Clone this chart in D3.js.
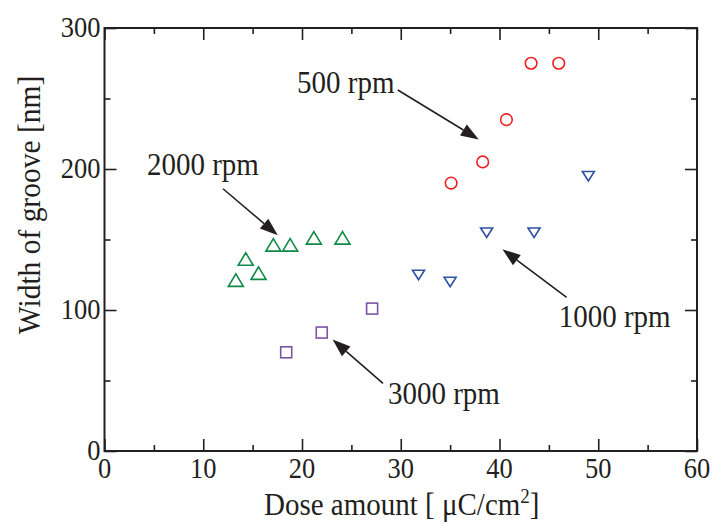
<!DOCTYPE html>
<html>
<head>
<meta charset="utf-8">
<script src="https://cdn.jsdelivr.net/npm/d3@7"></script>
<style>
  html, body { margin: 0; padding: 0; background: #fff; }
  svg { display: block; }
  text { font-family: "Liberation Serif", "Times New Roman", serif; fill: #231f20; }
</style>
</head>
<body>
<svg id="chart" width="713" height="524"></svg>
<script>
// Groove width versus electron dose, one series per spin-coating speed
const rpm500  = [[35.1, 190], [38.3, 205], [40.7, 235], [43.2, 275], [46.0, 275]];
const rpm1000 = [[31.8, 125], [35.0, 120], [38.7, 155], [43.5, 155], [49.0, 195]];
const rpm2000 = [[13.3, 121], [14.3, 136], [15.6, 126], [17.1, 146], [18.8, 146], [21.2, 151], [24.1, 151]];
const rpm3000 = [[18.4, 70], [22.0, 84], [27.1, 101]];

const xTicks = [0, 10, 20, 30, 40, 50, 60];
const yTicks = [0, 100, 200, 300];
const xMinor = [5, 15, 25, 35, 45, 55];
const yMinor = [50, 150, 250];

// Callouts: label anchor, arrow start and arrow tip, all in data units
const callouts = [
  { text: "500 rpm",  at: [19.5, 254], from: [29.7, 256], to: [37.9, 221] },
  { text: "2000 rpm", at: [4.3, 196],  from: [12.0, 186], to: [17.55, 153] },
  { text: "3000 rpm", at: [28.7, 33],  from: [28.2, 48],  to: [23.1, 79] },
  { text: "1000 rpm", at: [46.0, 88],  from: [46.8, 109], to: [40.3, 143] }
];

const svg = d3.select("#chart");
const axisColor = "#231f20";
const stretch = 1.1;   // the serif face is set slightly tall

const x = d3.scaleLinear().domain([0, 60]).range([104.5, 697]);
const y = d3.scaleLinear().domain([0, 300]).range([451, 28]);

// Mirrored tick marks pointing inward on all four sides
function tickAxis(gen, scale, ticks, len, transform) {
  return svg.append("g").attr("transform", transform)
    .call(gen(scale).tickValues(ticks).tickSize(len).tickFormat(""))
    .call(g => g.select(".domain").remove())
    .call(g => g.selectAll("line").attr("stroke", axisColor).attr("stroke-width", 1.6));
}
const x0 = x.range()[0], x1 = x.range()[1], y0 = y.range()[0], y1 = y.range()[1];
tickAxis(d3.axisTop, x, xTicks, 12, `translate(0,${y0})`);
tickAxis(d3.axisTop, x, xMinor, 6, `translate(0,${y0})`);
tickAxis(d3.axisBottom, x, xTicks, 12, `translate(0,${y1})`);
tickAxis(d3.axisBottom, x, xMinor, 6, `translate(0,${y1})`);
tickAxis(d3.axisRight, y, yTicks, 12, `translate(${x0},0)`);
tickAxis(d3.axisRight, y, yMinor, 6, `translate(${x0},0)`);
tickAxis(d3.axisLeft, y, yTicks, 12, `translate(${x1},0)`);
tickAxis(d3.axisLeft, y, yMinor, 6, `translate(${x1},0)`);

svg.append("rect")
  .attr("x", x0).attr("y", y1).attr("width", x1 - x0).attr("height", y0 - y1)
  .attr("fill", "none").attr("stroke", axisColor).attr("stroke-width", 2);

// Tick labels
svg.append("g").selectAll("text").data(xTicks).join("text")
  .attr("transform", d => `translate(${x(d)},${y0 + 27}) scale(1,${stretch})`)
  .attr("text-anchor", "middle").attr("font-size", 26.5)
  .text(d => d);
svg.append("g").selectAll("text").data(yTicks).join("text")
  .attr("transform", d => `translate(${x0 - 4},${y(d) + 9}) scale(1,${stretch})`)
  .attr("text-anchor", "end").attr("font-size", 26.5)
  .text(d => d);

// Axis titles
const xt = svg.append("text")
  .attr("transform", `translate(${(x0 + x1) / 2 + 1},515) scale(1,${stretch})`)
  .attr("text-anchor", "middle").attr("font-size", 29);
xt.append("tspan").text("Dose amount [ μC/cm");
xt.append("tspan").attr("dy", -11).attr("font-size", 19).text("2");
xt.append("tspan").attr("dy", 11).text("]");

svg.append("text")
  .attr("transform", `translate(40,205) rotate(-90) scale(1,${stretch})`)
  .attr("text-anchor", "middle").attr("font-size", 29.5)
  .text("Width of groove [nm]");

// Markers
const sw = 1.6;
svg.append("g").selectAll("circle").data(rpm500).join("circle")
  .attr("cx", d => x(d[0])).attr("cy", d => y(d[1])).attr("r", 5.8)
  .attr("fill", "none").attr("stroke", "#ed2024").attr("stroke-width", sw);

const upTri = "M0,-6.5L7.5,6L-7.5,6Z";
svg.append("g").selectAll("path").data(rpm2000).join("path")
  .attr("d", upTri)
  .attr("transform", d => `translate(${x(d[0])},${y(d[1])})`)
  .attr("fill", "none").attr("stroke", "#0f8a45").attr("stroke-width", sw);

const downTri = "M-6,-4.5L6,-4.5L0,5Z";
svg.append("g").selectAll("path").data(rpm1000).join("path")
  .attr("d", downTri)
  .attr("transform", d => `translate(${x(d[0])},${y(d[1])})`)
  .attr("fill", "none").attr("stroke", "#2d52a3").attr("stroke-width", sw);

svg.append("g").selectAll("rect").data(rpm3000).join("rect")
  .attr("x", d => x(d[0]) - 5.5).attr("y", d => y(d[1]) - 5.5)
  .attr("width", 11).attr("height", 11)
  .attr("fill", "none").attr("stroke", "#7b55a5").attr("stroke-width", sw);

// Callout labels and arrows
const ann = svg.append("g");
callouts.forEach(c => {
  ann.append("text")
    .attr("transform", `translate(${x(c.at[0])},${y(c.at[1])}) scale(1,${stretch})`)
    .attr("font-size", 29).text(c.text);
  const fx = x(c.from[0]), fy = y(c.from[1]), tx = x(c.to[0]), ty = y(c.to[1]);
  const ang = Math.atan2(ty - fy, tx - fx);
  const headLen = 18, headW = 6.5;
  const bx = tx - headLen * Math.cos(ang), by = ty - headLen * Math.sin(ang);
  ann.append("line").attr("x1", fx).attr("y1", fy).attr("x2", bx).attr("y2", by)
    .attr("stroke", "#231f20").attr("stroke-width", 1.6);
  const px = -Math.sin(ang) * headW, py = Math.cos(ang) * headW;
  ann.append("path")
    .attr("d", `M${tx},${ty}L${bx + px},${by + py}L${bx - px},${by - py}Z`)
    .attr("fill", "#231f20");
});
</script>
</body>
</html>
